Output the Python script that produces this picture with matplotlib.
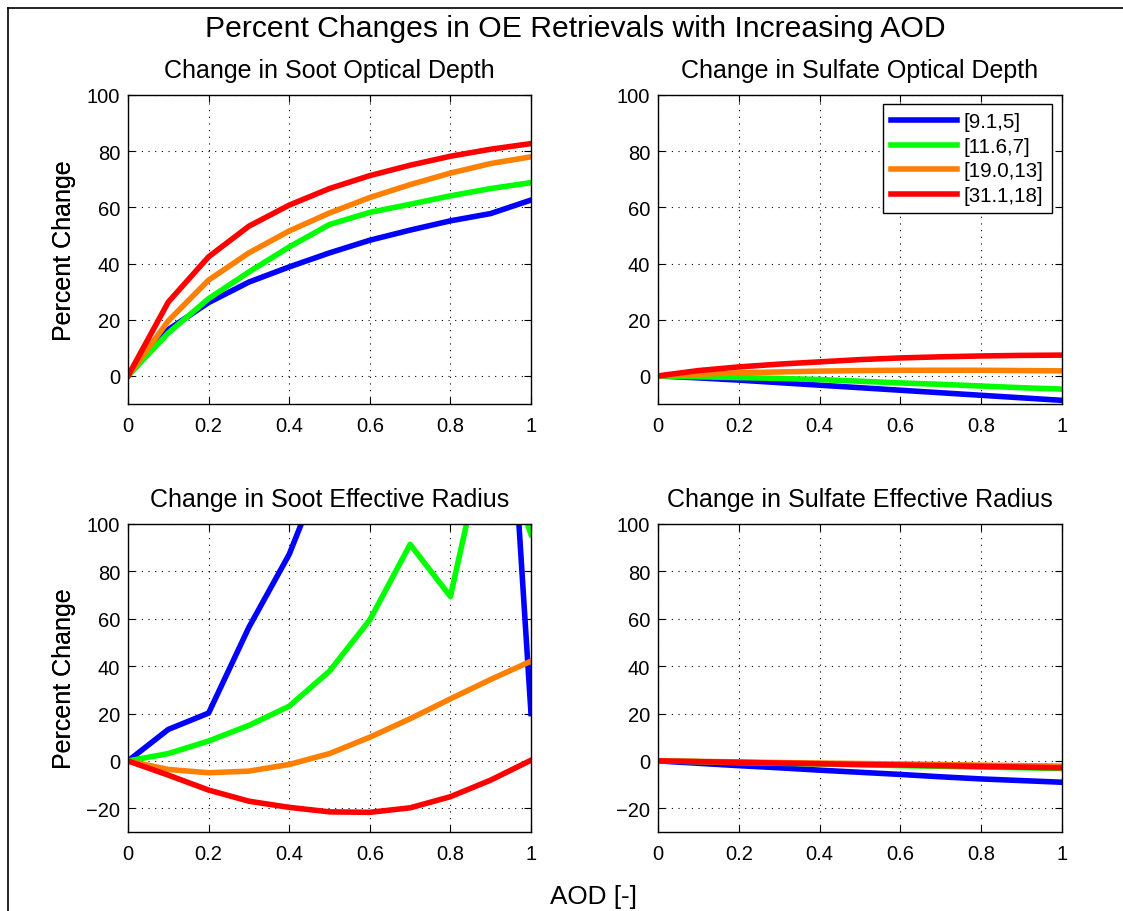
import matplotlib
matplotlib.use("Agg")
import matplotlib.pyplot as plt
from matplotlib.lines import Line2D

plt.rcParams['font.family'] = ['Liberation Sans', 'DejaVu Sans']
plt.rcParams['axes.unicode_minus'] = True

aod = [0.0, 0.1, 0.2, 0.3, 0.4, 0.5, 0.6, 0.7, 0.8, 0.9, 1.0]
labels = ['[9.1,5]', '[11.6,7]', '[19.0,13]', '[31.1,18]']
colors = ['#0000ff', '#00ff00', '#ff8000', '#ff0000']

soot_od = [
    [0, 16.5, 26.1, 33.4, 38.8, 43.8, 48.3, 51.9, 55.2, 57.8, 62.6],
    [0, 15.3, 27.5, 37.0, 45.9, 53.9, 58.2, 61.1, 64.1, 66.7, 68.8],
    [0, 19.6, 34.1, 43.8, 51.6, 58.0, 63.5, 68.1, 72.2, 75.6, 78.0],
    [0, 26.3, 42.4, 53.3, 60.8, 66.7, 71.3, 75.0, 78.2, 80.7, 82.7],
]
sulf_od = [
    [0, -0.7, -1.5, -2.4, -3.3, -4.2, -5.1, -6.0, -6.9, -7.8, -8.7],
    [0, -0.3, -0.6, -0.9, -1.3, -1.9, -2.5, -3.0, -3.6, -4.2, -4.7],
    [0, 0.6, 1.1, 1.4, 1.7, 1.9, 2.0, 2.0, 2.0, 1.9, 1.8],
    [0, 1.9, 3.2, 4.2, 5.0, 5.8, 6.4, 6.8, 7.1, 7.3, 7.4],
]
soot_re = [
    [0, 13.3, 20.2, 56.4, 87.2, 130.0, 175.0, 215.0, 250.0, 286.7, 20.0],
    [0, 3.1, 8.4, 15.0, 23.1, 37.9, 59.5, 91.4, 69.4, 146.0, 95.6],
    [0, -3.6, -5.0, -4.3, -1.5, 3.1, 10.0, 17.8, 26.2, 34.4, 42.1],
    [0, -6.0, -12.3, -17.0, -19.6, -21.5, -21.7, -19.8, -15.1, -8.1, 0.3],
]
sulf_re = [
    [0, -1.0, -2.0, -2.9, -3.9, -4.8, -5.7, -6.7, -7.6, -8.3, -9.0],
    [0, -0.3, -0.7, -1.0, -1.3, -1.6, -2.0, -2.3, -2.6, -2.9, -3.2],
    [0, -0.2, -0.4, -0.7, -0.9, -1.1, -1.3, -1.5, -1.8, -2.0, -2.2],
    [0, -0.3, -0.6, -0.9, -1.2, -1.5, -1.7, -2.0, -2.3, -2.6, -2.9],
]

titles = ['Change in Soot Optical Depth', 'Change in Sulfate Optical Depth',
          'Change in Soot Effective Radius', 'Change in Sulfate Effective Radius']
datasets = [soot_od, sulf_od, soot_re, sulf_re]
ylims = [(-10, 100), (-10, 100), (-30, 100), (-30, 100)]
yticks_list = [[0, 20, 40, 60, 80, 100], [0, 20, 40, 60, 80, 100],
               [-20, 0, 20, 40, 60, 80, 100], [-20, 0, 20, 40, 60, 80, 100]]
xticks = [0, 0.2, 0.4, 0.6, 0.8, 1.0]
xticklabels = ['0', '0.2', '0.4', '0.6', '0.8', '1']

W, H = 1123, 912
fig = plt.figure(figsize=(W / 100, H / 100), dpi=100)

# axes rectangles in pixels: left, top, right, bottom
rects = [(128, 96, 531, 405), (658, 96, 1062, 405),
         (128, 525, 531, 833), (658, 525, 1062, 833)]

axes = []
for i, (l, t, r, b) in enumerate(rects):
    ax = fig.add_axes([l / W, 1 - b / H, (r - l) / W, (b - t) / H])
    axes.append(ax)
    for j in range(4):
        ax.plot(aod, datasets[i][j], color=colors[j], lw=4.0, label=labels[j])
    ax.set_xlim(0, 1)
    ax.set_ylim(*ylims[i])
    ax.set_xticks(xticks)
    ax.set_xticklabels(xticklabels)
    ax.set_yticks(yticks_list[i])
    ax.tick_params(direction='in', top=True, right=True, length=5, width=0.8,
                   labelsize=14.5, pad=8.5)
    ax.tick_params(axis='y', pad=5.5)
    ax.grid(True, color='black', linestyle=(0, (1, 5)), linewidth=0.8)
    for sp in ax.spines.values():
        sp.set_linewidth(1.0)
    ax.set_title(titles[i], fontsize=18, pad=13)
    ax.set_ylabel('Percent Change', fontsize=18)
    ax.yaxis.set_label_coords(-(l - 76) / (r - l), 0.5)

leg = axes[1].legend(loc='upper right', bbox_to_anchor=(1 - 10 / 404, 1 - 9 / 309),
                     borderaxespad=0, fontsize=14.8, fancybox=False, framealpha=1,
                     edgecolor='black', handlelength=3.2, handletextpad=0.35,
                     labelspacing=0.27, borderpad=0.4)
leg.get_frame().set_linewidth(1.0)

fig.text(575 / W, 1 - 37 / H, 'Percent Changes in OE Retrievals with Increasing AOD',
         ha='center', va='baseline', fontsize=21.7)
fig.text(594 / W, 1 - 904 / H, 'AOD [-]', ha='center', va='baseline', fontsize=18.8)

# outer frame
fig.add_artist(Line2D([8 / W, 8 / W], [0, 1 - 9 / H], transform=fig.transFigure,
                      color='black', lw=1.2))
fig.add_artist(Line2D([8 / W, 1], [1 - 9 / H, 1 - 9 / H], transform=fig.transFigure,
                      color='black', lw=1.2))

fig.savefig('out.png', dpi=100)
